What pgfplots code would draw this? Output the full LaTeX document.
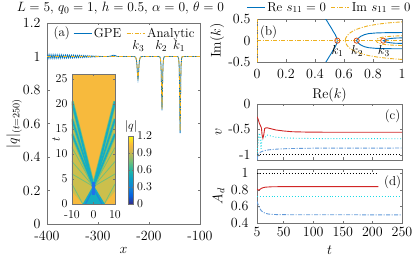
\RequirePackage{fix-cm}
\documentclass[border=0pt]{standalone}
\usepackage{fontspec}
\usepackage{pgfplots}
\pgfplotsset{compat=1.18}
\definecolor{mblue}{rgb}{0,0.447,0.741}
\definecolor{morange}{rgb}{0.929,0.694,0.125}
\definecolor{mred}{rgb}{0.85,0.325,0.098}
\definecolor{cred}{rgb}{0.82,0.15,0.15}
\definecolor{ccyan}{rgb}{0.1,0.85,0.9}
\definecolor{cblue}{rgb}{0.38,0.6,0.85}
\definecolor{axgray}{rgb}{0.45,0.45,0.45}
\definecolor{porange}{rgb}{0.97,0.73,0.24}
\definecolor{pcyan}{rgb}{0.08,0.68,0.76}
\definecolor{pgreen}{rgb}{0.45,0.75,0.48}
\definecolor{pfan}{rgb}{0.80,0.75,0.30}
\definecolor{pblue}{rgb}{0.12,0.45,0.92}
\newcommand\fs[1]{\fontsize{#1}{#1}\selectfont}
\pgfplotsset{
 mat/.style={scale only axis, axis line style={axgray}, every tick/.style={axgray, line width=0.4pt},
   major tick length=2.5pt, tick align=inside, every axis title shift=0pt,
   tick label style={font=\fs{14}}, label style={font=\fs{14}}},
 dashdot/.style={dash pattern=on 4pt off 1.5pt on 1pt off 1.5pt},
 colormap={parula}{rgb(0cm)=(0.208,0.166,0.529); rgb(1cm)=(0.016,0.384,0.882); rgb(2cm)=(0.078,0.522,0.831); rgb(3cm)=(0.03,0.627,0.78); rgb(4cm)=(0.137,0.718,0.643); rgb(5cm)=(0.45,0.75,0.48); rgb(6cm)=(0.776,0.722,0.318); rgb(7cm)=(0.988,0.733,0.231); rgb(8cm)=(0.976,0.984,0.055)},
}
\begin{document}
\begin{tikzpicture}[x=1pt,y=1pt]
\useasboundingbox (0,0) rectangle (415,260);
% ---------------- panel (a)
\begin{axis}[mat, at={(47pt,36pt)}, anchor=south west, width=153pt, height=201pt,
 xmin=-400,xmax=-100,ymin=0,ymax=1.2001,
 xtick={-400,-300,-200,-100}, xticklabels={-400,-300,-200,-100},
 ytick={0,0.2,0.4,0.6,0.8,1,1.2}, yticklabels={0,0.2,0.4,0.6,0.8,1,1.2},
 xticklabel style={yshift=-3.5pt}, yticklabel style={xshift=-3pt},
 xlabel={$x$}, ylabel={$|q|_{(t=250)}$},
 xlabel style={at={(axis description cs:0.5,-0.13)},anchor=center},
 ylabel style={at={(axis description cs:-0.215,0.5)},anchor=center},
 title={$L=5$, $q_0=1$, $h=0.5$, $\alpha=0$, $\theta=0$},
 title style={at={(axis description cs:0.48,1.057)}, anchor=base, font=\fs{13.5}},
 legend style={draw=none, fill=none, at={(axis description cs:0.15,0.948)}, anchor=west, font=\fs{13},
   /tikz/every even column/.append style={column sep=3pt}},
 legend columns=2,
 legend image code/.code={\draw[#1] (0pt,0pt) -- (18pt,0pt);},
]
\addplot[mblue, line width=0.8pt] coordinates {
(-400,1.012)(-398,0.988)(-396,1.012)(-394,0.989)(-392,1.011)(-390,0.989)(-388,1.011)(-386,0.989)
(-384,1.011)(-382,0.990)(-380,1.010)(-378,0.990)(-376,1.010)(-374,0.990)(-372,1.010)(-370,0.991)
(-368,1.009)(-366,0.991)(-364,1.009)(-362,0.991)(-360,1.009)(-358,0.992)(-356,1.008)(-354,0.992)
(-352,1.008)(-350,0.992)(-348,1.008)(-346,0.993)(-344,1.007)(-342,0.993)(-340,1.007)(-338,0.993)
(-336,1.007)(-334,0.994)(-332,1.006)(-330,0.994)(-328,1.006)(-326,0.995)(-324,1.005)(-322,0.995)
(-320,1.005)(-318,0.996)(-316,1.004)(-314,0.996)(-312,1.004)(-310,0.997)(-308,1.003)(-306,0.997)
(-304,1.003)(-302,0.998)(-300,1.002)(-298,0.999)(-296,1.001)(-294,1.000)
(-280,1.000)(-274,1.003)(-270,1.008)(-266,1.005)(-262,1.000)(-240,1.000)
(-229.6,0.9998)(-227.6,0.9987)(-225.6,0.9909)(-224.6,0.9769)(-223.6,0.947)(-223.1,0.922)(-222.6,0.896)
(-222.1,0.874)(-221.6,0.862)(-221.1,0.874)(-220.6,0.896)(-220.1,0.922)(-219.6,0.947)(-218.6,0.9769)
(-217.6,0.9909)(-215.6,0.9987)(-213.6,0.9998)
(-180.5,0.9998)(-178.5,0.9969)(-177.5,0.9868)(-176.5,0.947)(-176,0.896)(-175.5,0.818)(-175,0.726)
(-174.5,0.678)(-174,0.726)(-173.5,0.818)(-173,0.896)(-172.5,0.947)(-171.5,0.9868)(-170.5,0.9969)(-168.5,0.9998)
(-145,1.0)(-143,0.9982)(-142,0.9907)(-141,0.952)(-140.5,0.896)(-140,0.788)(-139.5,0.634)(-139,0.542)
(-138.5,0.634)(-138,0.788)(-137.5,0.896)(-137,0.952)(-136,0.9907)(-135,0.9982)(-133,1.0)(-100,1.0)};
\addlegendentry{GPE}
\addplot[morange, line width=0.8pt, dashdot] coordinates {
(-400,1)(-240,1)
(-229.6,0.9998)(-227.6,0.9987)(-225.6,0.9909)(-224.6,0.9769)(-223.6,0.947)(-223.1,0.924)(-222.6,0.899)
(-222.1,0.879)(-221.6,0.871)(-221.1,0.879)(-220.6,0.899)(-220.1,0.924)(-219.6,0.947)(-218.6,0.9769)
(-217.6,0.9909)(-215.6,0.9987)(-213.6,0.9998)
(-180.5,0.9998)(-178.5,0.9969)(-177.5,0.9868)(-176.5,0.947)(-176,0.898)(-175.5,0.822)(-175,0.732)
(-174.5,0.687)(-174,0.732)(-173.5,0.822)(-173,0.898)(-172.5,0.947)(-171.5,0.9868)(-170.5,0.9969)(-168.5,0.9998)
(-145,1.0)(-143,0.9982)(-142,0.9907)(-141,0.952)(-140.5,0.898)(-140,0.793)(-139.5,0.644)(-139,0.555)
(-138.5,0.644)(-138,0.793)(-137.5,0.898)(-137,0.952)(-136,0.9907)(-135,0.9982)(-133,1.0)(-100,1.0)};
\addlegendentry{Analytic}
\node[font=\fs{13}] at (axis cs:-371,1.14) {(a)};
\node[font=\fs{13}] at (axis cs:-221,1.065) {$k_3$};
\node[font=\fs{13}] at (axis cs:-176,1.065) {$k_2$};
\node[font=\fs{13}] at (axis cs:-141,1.065) {$k_1$};
\end{axis}
% ---------------- inset
\begin{axis}[mat, at={(72pt,56pt)}, anchor=south west, width=43pt, height=130pt,
 xmin=-10,xmax=10,ymin=0,ymax=26, axis on top,
 xtick={-10,0,10}, xticklabels={-10,0,10}, ytick={0,5,10,15,20,25}, yticklabels={0,5,10,15,20,25},
 tick label style={font=\fs{12}}, major tick length=2pt,
 xticklabel style={yshift=-3pt}, yticklabel style={xshift=-1pt},
 ylabel={$t$}, ylabel style={at={(axis description cs:-0.37,0.5)},anchor=center, font=\fs{12}},
 colormap name=parula, point meta min=0, point meta max=1.2, colorbar,
 colorbar style={scale only axis, at={(parent axis.south east)}, anchor=south west, xshift=5pt,
   width=5pt, height=68pt, ytick={0,0.3,0.6,0.9,1.2}, yticklabels={0,0.3,0.6,0.9,1.2},
   yticklabel style={font=\fs{12}}, axis line style={axgray}, major tick length=1.5pt,
   every axis title shift=0pt,
   title={$|q|$}, title style={font=\fs{12}, at={(0.5,1)}, anchor=south}},
]
\addplot[draw=none, fill=porange] coordinates {(-10,0)(10,0)(10,26)(-10,26)} --cycle;
\addplot[draw=none, fill=pfan] coordinates {(-5,0)(-10,2.5)(-10,20.5)(0,3.5)} --cycle;
\addplot[draw=none, fill=pfan] coordinates {(5,0)(10,2.5)(10,20.5)(0,3.5)} --cycle;
\addplot[pgreen, line width=0.8pt] coordinates {(-10,6)(0,3.5)(10,6)};
\addplot[pgreen, line width=0.8pt] coordinates {(-10,8.5)(0,3.5)(10,8.5)};
\addplot[pgreen, line width=0.8pt] coordinates {(-10,11.3)(0,3.5)(10,11.3)};
\addplot[pgreen, line width=0.8pt] coordinates {(-10,4)(-5,0)};
\addplot[pgreen, line width=0.8pt] coordinates {(10,4)(5,0)};
\addplot[draw=none, fill=pcyan] coordinates {(-5,0)(5.3,0)(0,3.8)} --cycle;
\addplot[pgreen, line width=3.4pt] coordinates {(-10,14)(0,3.5)(10,14)};
\addplot[pgreen, line width=3.4pt] coordinates {(-10,17)(0,3.5)(10,17)};
\addplot[pgreen, line width=3.4pt] coordinates {(-10,20.5)(0,3.5)(10,20.5)};
\addplot[pcyan, line width=1.6pt] coordinates {(-10,14)(0,3.5)(10,14)};
\addplot[pcyan, line width=1.6pt] coordinates {(-10,17)(0,3.5)(10,17)};
\addplot[pcyan, line width=1.9pt] coordinates {(-10,20.5)(0,3.5)(10,20.5)};
\addplot[pblue!70!pcyan, line width=1pt] coordinates {(-3.7,0)(0.8,3.8)};
\addplot[pblue!70!pcyan, line width=1pt] coordinates {(3.9,0)(-0.8,3.8)};
\addplot[pblue, line width=2.6pt] coordinates {(0,1.8)(0,4.4)};
\end{axis}
% ---------------- panel (b)
\begin{axis}[mat, at={(257pt,198pt)}, anchor=south west, width=145pt, height=42.7pt,
 xmin=0,xmax=1,ymin=-0.5,ymax=0.5,
 xtick={0,0.2,0.4,0.6,0.8,1}, xticklabels={0,0.2,0.4,0.6,0.8,1},
 ytick={-0.5,0,0.5}, yticklabels={-0.5,0,0.5},
 xticklabel style={yshift=-3.5pt}, yticklabel style={xshift=-3pt},
 xlabel={$\mathrm{Re}(k)$}, ylabel={$\mathrm{Im}(k)$},
 xlabel style={at={(axis description cs:0.5,-0.78)},anchor=center},
 ylabel style={at={(axis description cs:-0.275,0.5)},anchor=center},
 legend style={draw=none, fill=none, at={(axis description cs:0.5,1.06)}, anchor=south, font=\fs{13},
   /tikz/every even column/.append style={column sep=3pt}},
 legend columns=2,
 legend image code/.code={\draw[#1] (0pt,0pt) -- (18pt,0pt);},
]
\addplot[mblue, line width=0.9pt] coordinates {(0.468,-0.55)(0.475,-0.5)(0.483,-0.46)(0.497,-0.38)(0.512,-0.3)(0.525,-0.22)(0.538,-0.15)(0.548,-0.08)(0.554,0)(0.548,0.08)(0.538,0.15)(0.525,0.22)(0.512,0.3)(0.497,0.38)(0.483,0.46)(0.475,0.5)(0.468,0.55)};
\addlegendentry{$\mathrm{Re}\ s_{11}=0$}
\addplot[morange, line width=0.9pt, dashdot] coordinates {(0,0)(1,0)};
\addlegendentry{$\mathrm{Im}\ s_{11}=0$}
\addplot[morange, line width=0.9pt, dashdot, forget plot] coordinates {(0,-0.5)(0,0.5)};
\addplot[morange, line width=0.9pt, dashdot, forget plot] coordinates {(1,-0.44)(0.92,-0.42)(0.84,-0.39)(0.77,-0.35)(0.715,-0.3)(0.675,-0.25)(0.645,-0.19)(0.625,-0.13)(0.612,-0.06)(0.607,0)(0.612,0.06)(0.625,0.13)(0.645,0.19)(0.675,0.25)(0.715,0.3)(0.77,0.35)(0.84,0.39)(0.92,0.42)(1,0.44)};
\addplot[morange, line width=0.9pt, dashdot, forget plot] coordinates {(1,-0.115)(0.93,-0.105)(0.88,-0.09)(0.85,-0.07)(0.83,-0.04)(0.82,0)(0.83,0.04)(0.85,0.07)(0.88,0.09)(0.93,0.105)(1,0.115)};
\addplot[mblue, line width=0.9pt, forget plot] coordinates {(1,-0.19)(0.9,-0.188)(0.82,-0.18)(0.77,-0.165)(0.74,-0.14)(0.715,-0.1)(0.7,-0.06)(0.69,-0.02)(0.687,0)(0.69,0.02)(0.7,0.06)(0.715,0.1)(0.74,0.14)(0.77,0.165)(0.82,0.18)(0.9,0.188)(1,0.19)};
\addplot[mblue, line width=0.9pt, forget plot] coordinates {(1,-0.065)(0.95,-0.06)(0.92,-0.05)(0.895,-0.035)(0.88,-0.015)(0.871,0)(0.88,0.015)(0.895,0.035)(0.92,0.05)(0.95,0.06)(1,0.065)};
\addplot[only marks, mark=o, mark size=2.6pt, mred, line width=0.8pt, forget plot] coordinates {(0.554,0)(0.687,0)(0.871,0)};
\node[font=\fs{13}] at (axis cs:0.555,-0.25) {$k_1$};
\node[font=\fs{13}] at (axis cs:0.69,-0.25) {$k_2$};
\node[font=\fs{13}] at (axis cs:0.875,-0.25) {$k_3$};
\node[font=\fs{13}] at (axis description cs:0.08,0.7) {(b)};
\end{axis}
% ---------------- panel (c)
\begin{axis}[mat, at={(257pt,100pt)}, anchor=south west, width=145pt, height=56pt,
 xmin=5,xmax=250,ymin=-1.1,ymax=0.0001,
 xtick={5,50,100,150,200,250}, xticklabels={},
 ytick={-1,-0.5,0}, yticklabels={-1,-0.5,0}, yticklabel style={xshift=-3pt},
 ylabel={$v$}, ylabel style={at={(axis description cs:-0.265,0.5)},anchor=center},
]
\addplot[black, line width=0.9pt, dotted] coordinates {(5,-1)(250,-1)};
\addplot[cblue, line width=0.9pt, dashdot] coordinates {(5,-1.1)(6,-1.04)(7,-1.0)(9,-0.96)(12,-0.94)(16,-0.92)(25,-0.9)(40,-0.885)(60,-0.875)(100,-0.868)(250,-0.865)};
\addplot[ccyan, line width=0.9pt, dotted] coordinates {(5,-1.0)(6.5,-0.8)(8,-0.61)(9.5,-0.57)(11,-0.75)(12,-0.88)(13,-0.75)(14,-0.62)(16,-0.65)(18,-0.66)(22,-0.61)(26,-0.62)(35,-0.65)(50,-0.665)(80,-0.675)(120,-0.68)(250,-0.682)};
\addplot[cred, line width=0.9pt] coordinates {(5,-0.25)(7,-0.3)(9,-0.38)(11,-0.43)(12.5,-0.47)(13.5,-0.6)(15,-0.67)(16.5,-0.6)(18,-0.48)(20,-0.47)(23,-0.47)(30,-0.49)(37,-0.51)(50,-0.53)(65,-0.545)(90,-0.552)(130,-0.555)(250,-0.555)};
\node[font=\fs{13}] at (axis description cs:0.935,0.78) {(c)};
\end{axis}
% ---------------- panel (d)
\begin{axis}[mat, at={(257pt,37pt)}, anchor=south west, width=145pt, height=54pt,
 xmin=5,xmax=250,ymin=0.4,ymax=1.05,
 xtick={5,50,100,150,200,250}, xticklabels={5,50,100,150,200,250},
 ytick={0.4,0.6,0.8,1}, yticklabels={0.4,0.6,0.8,1},
 xticklabel style={yshift=-1pt}, yticklabel style={xshift=-5pt},
 xlabel={$t$}, xlabel style={at={(axis description cs:0.5,-0.5)},anchor=center},
 ylabel={$A_d$}, ylabel style={at={(axis description cs:-0.265,0.5)},anchor=center},
]
\addplot[black, line width=0.9pt, dotted] coordinates {(5,1)(210,1)};
\addplot[cblue, line width=0.9pt, dashdot] coordinates {(5,0.66)(7,0.62)(9,0.585)(12,0.55)(15,0.53)(20,0.515)(25,0.507)(35,0.502)(50,0.5)(250,0.498)};
\addplot[ccyan, line width=0.9pt, dotted] coordinates {(5,0.722)(250,0.722)};
\addplot[cred, line width=0.9pt] coordinates {(5,0.81)(6.5,0.8)(8,0.795)(10,0.805)(12,0.815)(15,0.825)(20,0.832)(30,0.836)(50,0.838)(210,0.838)};
\node[font=\fs{13}] at (axis description cs:0.935,0.76) {(d)};
\end{axis}
\end{tikzpicture}
\end{document}
